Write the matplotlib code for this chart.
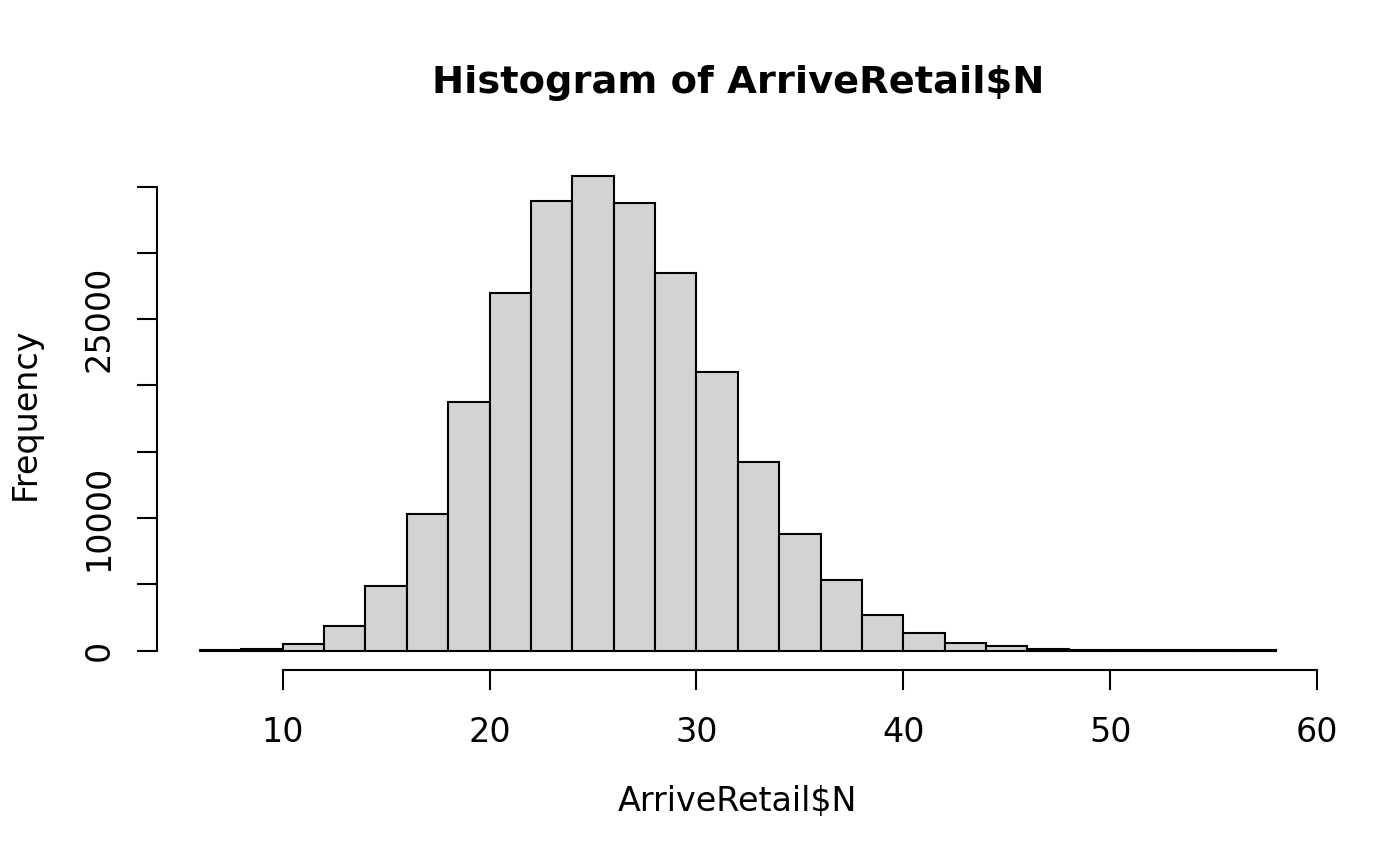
import numpy as np
import matplotlib
matplotlib.use("Agg")
import matplotlib.pyplot as plt

# bin edges (width 2) and counts
bin_left = np.arange(6, 58, 2)
counts = [10, 110, 510, 1830, 4845, 10280, 18780, 27000, 33920, 35810,
          33770, 28510, 21040, 14230, 8815, 5300, 2660, 1320, 570, 340,
          150, 60, 25, 10, 5, 2]

x_ticks = [10, 20, 30, 40, 50, 60]
y_ticks = [0, 5000, 10000, 15000, 20000, 25000, 30000, 35000]
y_labels = ["0", "", "10000", "", "", "25000", "", ""]

plt.rcParams['font.family'] = 'DejaVu Sans'
plt.rcParams['font.size'] = 12

fig = plt.figure(figsize=(7, 4.33), dpi=200)
ax = fig.add_axes([0.1121, 0.2269, 0.9419 - 0.1121, 0.8187 - 0.2269])

ax.bar(bin_left, counts, width=2, align='edge', color='#d3d3d3',
       edgecolor='black', linewidth=0.75)

ymax = max(counts)
ax.set_xlim(6 - 0.04 * 52, 58 + 0.04 * 52)
ax.set_ylim(-0.04 * ymax, 1.04 * ymax)

ax.set_xticks(x_ticks)
ax.set_yticks(y_ticks)
ax.set_yticklabels(y_labels, rotation=90, va='center')

for s in ['top', 'right']:
    ax.spines[s].set_visible(False)
ax.spines['left'].set_bounds(0, 35000)
ax.spines['bottom'].set_bounds(10, 60)
ax.spines['left'].set_linewidth(0.75)
ax.spines['bottom'].set_linewidth(0.75)
ax.tick_params(length=7.2, width=0.75, labelsize=12)
ax.tick_params(axis='x', pad=9.5)
ax.tick_params(axis='y', pad=7.7)

ax.set_title("Histogram of ArriveRetail$N", fontsize=13.8, fontweight='bold', pad=23)
ax.set_xlabel("ArriveRetail$N", labelpad=13)
ax.set_ylabel("Frequency", labelpad=14.8)

fig.savefig("out.png", dpi=200)
